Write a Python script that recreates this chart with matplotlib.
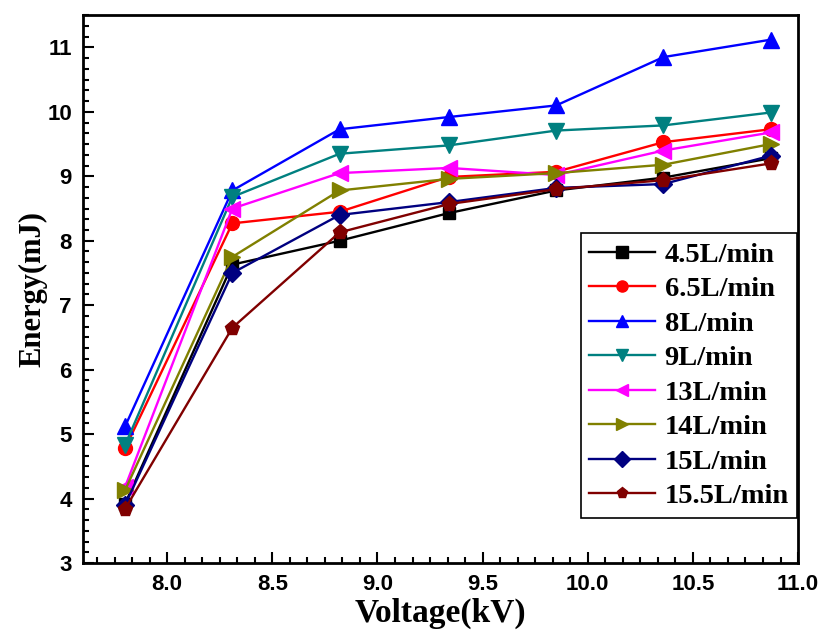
import matplotlib
matplotlib.use("Agg")
import matplotlib.pyplot as plt
from matplotlib.ticker import MultipleLocator, AutoMinorLocator

voltage = [7.80, 8.31, 8.82, 9.34, 9.85, 10.36, 10.87]

labels = ["4.5L/min", "6.5L/min", "8L/min", "9L/min",
          "13L/min", "14L/min", "15L/min", "15.5L/min"]

e_4_5 = [3.92, 7.63, 8.00, 8.43, 8.78, 8.98, 9.28]
e_6_5 = [4.78, 8.27, 8.45, 8.99, 9.07, 9.53, 9.73]
e_8 = [5.12, 8.78, 9.73, 9.92, 10.10, 10.85, 11.12]
e_9 = [4.83, 8.68, 9.35, 9.48, 9.71, 9.79, 9.99]
e_13 = [4.18, 8.50, 9.05, 9.13, 9.02, 9.40, 9.68]
e_14 = [4.13, 7.75, 8.78, 8.96, 9.05, 9.18, 9.50]
e_15 = [3.90, 7.50, 8.40, 8.60, 8.82, 8.88, 9.32]
e_15_5 = [3.84, 6.65, 8.13, 8.57, 8.80, 8.94, 9.20]

series = [e_4_5, e_6_5, e_8, e_9, e_13, e_14, e_15, e_15_5]
colors = ["#000000", "#FF0000", "#0000FF", "#008080",
          "#FF00FF", "#808000", "#000080", "#800000"]
markers = ["s", "o", "^", "v", "<", ">", "D", "p"]
msizes = [9, 10, 11, 11, 11, 11, 9, 11]

fig = plt.figure(figsize=(8.27, 6.33), dpi=100)
ax = fig.add_axes([0.1004, 0.1106, 0.8646, 0.8654])

for y, c, m, ms, lab in zip(series, colors, markers, msizes, labels):
    ax.plot(voltage, y, color=c, marker=m, markersize=ms, linewidth=1.7,
            markeredgecolor=c, label=lab)

ax.set_xlim(7.6, 11.0)
ax.set_ylim(3, 11.5)
ax.xaxis.set_major_locator(MultipleLocator(0.5))
ax.yaxis.set_major_locator(MultipleLocator(1))
ax.xaxis.set_minor_locator(AutoMinorLocator(6))
ax.yaxis.set_minor_locator(AutoMinorLocator(6))
ax.tick_params(which="both", direction="in", top=False, right=False, width=1.5)
ax.tick_params(which="major", length=8)
ax.tick_params(which="minor", length=4.5)
ax.tick_params(axis="both", pad=8)
ax.set_xticks([8.0, 8.5, 9.0, 9.5, 10.0, 10.5, 11.0])
ax.set_xticklabels(["8.0", "8.5", "9.0", "9.5", "10.0", "10.5", "11.0"],
                   fontfamily="Liberation Sans", fontweight="bold", fontsize=16)
ax.set_yticks(range(3, 12))
ax.set_yticklabels([str(v) for v in range(3, 12)],
                   fontfamily="Liberation Sans", fontweight="bold", fontsize=16)

for sp in ax.spines.values():
    sp.set_linewidth(2)

ax.set_xlabel("Voltage(kV)", fontfamily="Liberation Serif", fontweight="bold",
              fontsize=24, labelpad=2)
ax.set_ylabel("Energy(mJ)", fontfamily="Liberation Serif", fontweight="bold",
              fontsize=22, labelpad=0)

leg = ax.legend(loc="upper right", bbox_to_anchor=(0.999, 0.602),
                borderaxespad=0, fancybox=False, edgecolor="black",
                framealpha=1, handlelength=2.3, labelspacing=0.3,
                borderpad=0.3, handletextpad=0.35,
                prop={"family": "Liberation Serif", "weight": "bold", "size": 20.5})
leg.get_frame().set_linewidth(1.2)
for h in leg.legend_handles:
    h.set_markersize(8)

fig.savefig("out.png", dpi=100)
